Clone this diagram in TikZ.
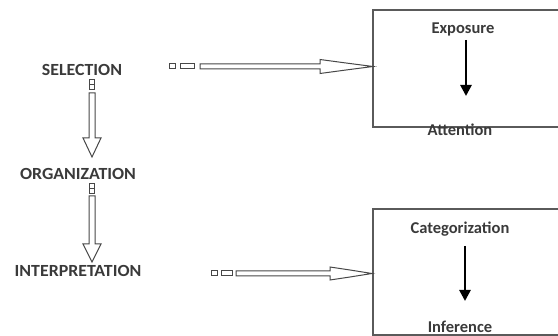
\documentclass[tikz,border=0pt]{standalone}
\usepackage{fontspec}
\setmainfont{Carlito}
\usetikzlibrary{arrows.meta}
\definecolor{ink}{HTML}{3A3A3A}
\definecolor{rule}{HTML}{5A5A5A}
\definecolor{outline}{HTML}{474747}
\tikzset{
  stage/.style={font=\bfseries\fontsize{17}{19}\selectfont, text=ink, inner sep=0pt, xscale=1.05},
  inner/.style={font=\bfseries\fontsize{16.5}{18}\selectfont, text=ink, inner sep=0pt},
  frame/.style={draw=rule, line width=1.2pt},
  hollow/.style={draw=outline, line width=1pt, fill=white},
  solid arrow/.style={line width=2.6pt, black, -{Triangle[length=11pt,width=11pt]}}
}
\begin{document}
\begin{tikzpicture}[x=1pt,y=-1pt]
\useasboundingbox (0,0) rectangle (558,336);

% frames on the right (open to the right edge)
\draw[frame] (575,10) -- (373,10) -- (373,127) -- (575,127);
\draw[frame] (575,209) -- (373,209) -- (373,335) -- (575,335);

% stage labels
\node[stage] (sel) at (82,70) {SELECTION};
\node[stage] (org) at (78,174) {ORGANIZATION};
\node[stage] (int) at (78,271) {INTERPRETATION};

% box contents
\node[inner] (exp) at (463,29) {Exposure};
\node[inner] (att) at (460,130) {Attention};
\node[inner] (cat) at (460,229) {Categorization};
\node[inner] (inf) at (460,327) {Inference};

\draw[solid arrow] (466,40) -- (466,96);
\draw[solid arrow] (465,246) -- (465,301);

% hollow downward arrows between stages
\foreach \ya/\yb/\yc/\yd in {80/93/138/157, 184/196/244/262}{
  \draw[hollow] (89.5,\ya) rectangle (94.5,\ya+4.5);
  \draw[hollow] (89.5,\ya+5) rectangle (94.5,\ya+9.5);
  \draw[hollow] (89,\yb) -- (95,\yb) -- (95,\yc) -- (101,\yc)
     -- (92,\yd) -- (83,\yc) -- (89,\yc) -- cycle;
}

% hollow rightward arrows into the frames
\draw[hollow] (169,64) rectangle (175,69);
\draw[hollow] (180,64) rectangle (194,69);
\draw[hollow] (200,64) -- (320,64) -- (320,59.5) -- (346,63) -- (373,66.5)
   -- (346,70) -- (320,73.5) -- (320,69) -- (200,69) -- cycle;

\draw[hollow] (211,271) rectangle (217,276);
\draw[hollow] (221,271) rectangle (232,276);
\draw[hollow] (236,271) -- (330,271) -- (330,267) -- (350,270) -- (372,273.5)
   -- (350,277) -- (330,280) -- (330,276) -- (236,276) -- cycle;
\end{tikzpicture}
\end{document}
